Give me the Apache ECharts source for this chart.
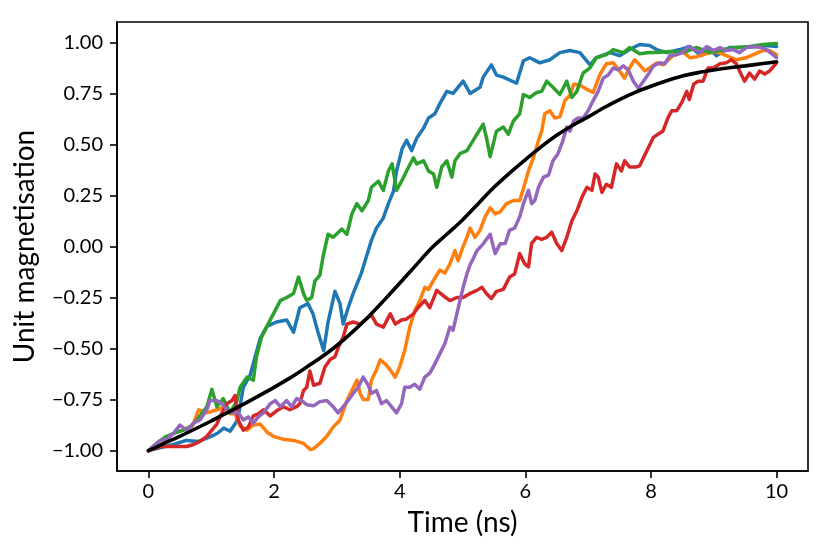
<!DOCTYPE html>
<html>
<head>
<meta charset="utf-8">
<script src="https://cdn.jsdelivr.net/npm/echarts@6/dist/echarts.min.js"></script>
<style>
	html, body {margin:0; padding:0; background:#fff;}
	#chart {width:831px; height:554px;}
</style>
</head>
<body>
<div id="chart"></div>
<script>
// individual runs, [time (ns), unit magnetisation]
var run1 = [[0,-1],[0.2,-0.985],[0.4,-0.97],[0.6,-0.95],[0.8,-0.955],[1.0,-0.93],[1.1,-0.915],[1.2,-0.89],[1.3,-0.905],[1.4,-0.86],[1.45,-0.8],[1.51,-0.69],[1.62,-0.63],[1.7,-0.54],[1.78,-0.45],[1.89,-0.39],[2.04,-0.37],[2.2,-0.36],[2.31,-0.42],[2.41,-0.3],[2.54,-0.28],[2.62,-0.33],[2.7,-0.42],[2.79,-0.51],[2.86,-0.37],[2.97,-0.22],[3.05,-0.28],[3.1,-0.38],[3.18,-0.3],[3.26,-0.23],[3.39,-0.13],[3.47,-0.05],[3.55,0.03],[3.63,0.09],[3.74,0.14],[3.82,0.21],[3.9,0.27],[3.95,0.37],[4.04,0.48],[4.11,0.52],[4.19,0.47],[4.27,0.53],[4.38,0.58],[4.46,0.63],[4.56,0.65],[4.64,0.7],[4.75,0.76],[4.85,0.75],[5.01,0.81],[5.12,0.75],[5.28,0.78],[5.33,0.83],[5.46,0.89],[5.54,0.84],[5.65,0.83],[5.86,0.8],[5.97,0.91],[6.07,0.925],[6.23,0.9],[6.39,0.915],[6.55,0.95],[6.71,0.96],[6.87,0.95],[7.03,0.89],[7.13,0.925],[7.35,0.95],[7.5,0.935],[7.66,0.965],[7.82,0.99],[7.98,0.985],[8.09,0.965],[8.25,0.95],[8.46,0.965],[8.62,0.98],[8.8,0.935],[8.94,0.97],[9.04,0.935],[9.25,0.975],[9.47,0.975],[9.68,0.98],[9.84,0.985],[10,0.98]];
var run2 = [[0,-1],[0.2,-0.97],[0.4,-0.915],[0.55,-0.9],[0.7,-0.88],[0.8,-0.8],[0.93,-0.815],[1.09,-0.8],[1.22,-0.785],[1.3,-0.82],[1.38,-0.82],[1.46,-0.88],[1.57,-0.9],[1.67,-0.875],[1.78,-0.87],[1.89,-0.91],[1.99,-0.93],[2.15,-0.945],[2.31,-0.95],[2.47,-0.965],[2.58,-0.995],[2.63,-0.99],[2.73,-0.965],[2.84,-0.93],[2.94,-0.885],[3.05,-0.85],[3.16,-0.755],[3.24,-0.705],[3.32,-0.655],[3.37,-0.72],[3.42,-0.75],[3.5,-0.75],[3.55,-0.655],[3.63,-0.605],[3.69,-0.555],[3.77,-0.575],[3.85,-0.605],[3.93,-0.64],[4.0,-0.59],[4.08,-0.51],[4.16,-0.395],[4.24,-0.315],[4.32,-0.265],[4.4,-0.2],[4.46,-0.21],[4.54,-0.165],[4.64,-0.115],[4.72,-0.13],[4.8,-0.085],[4.88,-0.02],[4.93,-0.07],[5.01,0],[5.07,0.045],[5.12,0.09],[5.2,0.045],[5.28,0.08],[5.36,0.145],[5.44,0.19],[5.52,0.16],[5.6,0.17],[5.7,0.21],[5.81,0.225],[5.91,0.225],[5.99,0.305],[6.05,0.37],[6.13,0.435],[6.21,0.52],[6.26,0.565],[6.31,0.65],[6.39,0.665],[6.47,0.63],[6.55,0.635],[6.63,0.715],[6.71,0.74],[6.77,0.795],[6.87,0.79],[6.98,0.77],[7.08,0.755],[7.19,0.845],[7.29,0.895],[7.4,0.9],[7.5,0.86],[7.58,0.825],[7.66,0.875],[7.74,0.915],[7.82,0.89],[7.9,0.86],[7.98,0.875],[8.09,0.9],[8.19,0.89],[8.35,0.935],[8.51,0.955],[8.62,0.925],[8.73,0.93],[8.89,0.945],[9.04,0.955],[9.2,0.935],[9.36,0.915],[9.52,0.925],[9.63,0.94],[9.78,0.96],[9.89,0.96],[10,0.94]];
var run3 = [[0,-1],[0.15,-0.96],[0.29,-0.93],[0.45,-0.91],[0.56,-0.9],[0.68,-0.88],[0.77,-0.85],[0.93,-0.785],[1.01,-0.7],[1.09,-0.785],[1.19,-0.745],[1.3,-0.815],[1.41,-0.755],[1.46,-0.69],[1.57,-0.64],[1.67,-0.655],[1.72,-0.54],[1.8,-0.445],[1.88,-0.395],[1.99,-0.33],[2.1,-0.265],[2.2,-0.25],[2.31,-0.23],[2.39,-0.15],[2.47,-0.23],[2.52,-0.265],[2.6,-0.25],[2.65,-0.17],[2.73,-0.14],[2.78,-0.05],[2.86,0.06],[2.94,0.045],[3.08,0.085],[3.16,0.06],[3.24,0.16],[3.32,0.21],[3.4,0.175],[3.5,0.225],[3.55,0.29],[3.66,0.32],[3.74,0.275],[3.82,0.37],[3.88,0.405],[3.95,0.275],[4.03,0.32],[4.11,0.37],[4.22,0.435],[4.27,0.405],[4.38,0.42],[4.46,0.37],[4.54,0.355],[4.59,0.29],[4.67,0.39],[4.75,0.42],[4.83,0.34],[4.88,0.42],[4.96,0.455],[5.07,0.47],[5.17,0.52],[5.23,0.55],[5.33,0.6],[5.38,0.535],[5.44,0.44],[5.54,0.565],[5.65,0.585],[5.73,0.55],[5.81,0.615],[5.91,0.65],[5.97,0.745],[6.07,0.73],[6.18,0.755],[6.26,0.76],[6.34,0.81],[6.44,0.78],[6.55,0.745],[6.66,0.81],[6.74,0.73],[6.82,0.76],[6.92,0.85],[7.03,0.875],[7.13,0.925],[7.29,0.94],[7.4,0.965],[7.56,0.95],[7.66,0.975],[7.82,0.945],[7.98,0.95],[8.09,0.95],[8.3,0.955],[8.51,0.95],[8.73,0.975],[8.94,0.95],[9.15,0.965],[9.36,0.975],[9.57,0.98],[9.78,0.99],[10,0.995]];
var run4 = [[0,-1],[0.19,-0.98],[0.4,-0.98],[0.61,-0.98],[0.72,-0.97],[0.82,-0.955],[0.93,-0.93],[1.01,-0.9],[1.09,-0.87],[1.17,-0.815],[1.25,-0.77],[1.33,-0.755],[1.38,-0.73],[1.43,-0.85],[1.51,-0.9],[1.59,-0.885],[1.67,-0.83],[1.75,-0.82],[1.83,-0.8],[1.94,-0.83],[2.04,-0.805],[2.15,-0.785],[2.25,-0.8],[2.36,-0.785],[2.41,-0.77],[2.47,-0.705],[2.52,-0.69],[2.57,-0.61],[2.63,-0.68],[2.73,-0.67],[2.81,-0.59],[2.89,-0.555],[2.97,-0.54],[3.03,-0.49],[3.1,-0.445],[3.16,-0.38],[3.26,-0.37],[3.37,-0.38],[3.47,-0.355],[3.55,-0.335],[3.63,-0.38],[3.74,-0.395],[3.85,-0.33],[3.93,-0.38],[4.03,-0.36],[4.11,-0.355],[4.22,-0.33],[4.29,-0.3],[4.4,-0.265],[4.48,-0.3],[4.59,-0.215],[4.69,-0.24],[4.8,-0.265],[4.91,-0.25],[5.01,-0.25],[5.12,-0.23],[5.23,-0.215],[5.31,-0.2],[5.38,-0.23],[5.46,-0.255],[5.54,-0.22],[5.65,-0.21],[5.75,-0.15],[5.83,-0.135],[5.91,-0.035],[5.99,-0.085],[6.05,-0.1],[6.1,0.015],[6.18,0.045],[6.26,0.035],[6.34,0.045],[6.42,0.07],[6.5,0.015],[6.58,-0.02],[6.66,0.045],[6.74,0.125],[6.82,0.175],[6.9,0.24],[6.98,0.29],[7.06,0.275],[7.11,0.355],[7.16,0.34],[7.22,0.265],[7.29,0.305],[7.37,0.29],[7.45,0.405],[7.53,0.37],[7.58,0.42],[7.66,0.39],[7.77,0.39],[7.82,0.395],[7.88,0.435],[7.96,0.485],[8.04,0.535],[8.11,0.55],[8.19,0.565],[8.27,0.63],[8.33,0.665],[8.41,0.665],[8.49,0.705],[8.57,0.76],[8.61,0.72],[8.68,0.795],[8.75,0.81],[8.83,0.81],[8.91,0.875],[8.99,0.875],[9.1,0.895],[9.2,0.9],[9.28,0.915],[9.36,0.895],[9.41,0.86],[9.49,0.81],[9.57,0.85],[9.65,0.82],[9.73,0.86],[9.81,0.845],[9.89,0.86],[10,0.9]];
var run5 = [[0,-1],[0.19,-0.95],[0.29,-0.945],[0.4,-0.915],[0.5,-0.875],[0.61,-0.9],[0.72,-0.865],[0.82,-0.85],[0.93,-0.8],[0.98,-0.755],[1.09,-0.755],[1.17,-0.77],[1.25,-0.8],[1.35,-0.815],[1.43,-0.815],[1.51,-0.85],[1.59,-0.835],[1.67,-0.865],[1.75,-0.835],[1.83,-0.815],[1.94,-0.77],[2.02,-0.755],[2.1,-0.785],[2.2,-0.755],[2.28,-0.785],[2.36,-0.745],[2.44,-0.755],[2.52,-0.775],[2.63,-0.78],[2.73,-0.76],[2.84,-0.755],[2.94,-0.785],[3.02,-0.815],[3.1,-0.785],[3.18,-0.755],[3.26,-0.72],[3.34,-0.69],[3.42,-0.64],[3.5,-0.68],[3.55,-0.72],[3.63,-0.705],[3.71,-0.77],[3.79,-0.755],[3.87,-0.785],[3.95,-0.815],[4.03,-0.77],[4.08,-0.69],[4.16,-0.69],[4.24,-0.675],[4.32,-0.7],[4.4,-0.64],[4.48,-0.62],[4.56,-0.575],[4.64,-0.525],[4.72,-0.475],[4.8,-0.395],[4.85,-0.41],[4.91,-0.33],[4.96,-0.265],[5.01,-0.2],[5.07,-0.135],[5.12,-0.09],[5.17,-0.06],[5.23,-0.02],[5.33,0.013],[5.44,0.06],[5.52,-0.035],[5.6,0.013],[5.68,0.015],[5.75,0.08],[5.83,0.09],[5.91,0.145],[5.97,0.21],[6.05,0.275],[6.1,0.21],[6.15,0.225],[6.21,0.29],[6.29,0.34],[6.37,0.35],[6.44,0.42],[6.52,0.455],[6.6,0.52],[6.66,0.585],[6.71,0.565],[6.77,0.615],[6.84,0.63],[6.92,0.63],[7.0,0.665],[7.08,0.715],[7.16,0.76],[7.24,0.825],[7.32,0.84],[7.4,0.875],[7.48,0.865],[7.56,0.885],[7.64,0.865],[7.72,0.81],[7.8,0.775],[7.88,0.81],[7.96,0.845],[8.04,0.885],[8.14,0.9],[8.22,0.895],[8.3,0.935],[8.41,0.94],[8.51,0.95],[8.59,0.98],[8.7,0.965],[8.78,0.95],[8.89,0.98],[8.99,0.96],[9.1,0.975],[9.2,0.96],[9.31,0.965],[9.41,0.95],[9.52,0.975],[9.63,0.98],[9.76,0.975],[9.84,0.965],[9.92,0.945],[10,0.925]];
// average over runs (black curve)
var meanRun = [[0,-1],[0.25,-0.965],[0.5,-0.93],[0.75,-0.893],[1.0,-0.855],[1.25,-0.815],[1.5,-0.775],[1.75,-0.733],[2.0,-0.69],[2.25,-0.645],[2.5,-0.595],[2.75,-0.543],[3.0,-0.485],[3.25,-0.418],[3.5,-0.345],[3.75,-0.264],[4.0,-0.18],[4.25,-0.095],[4.5,-0.01],[4.75,0.06],[5.0,0.13],[5.25,0.21],[5.5,0.29],[5.75,0.36],[6.0,0.425],[6.25,0.488],[6.5,0.545],[6.75,0.593],[7.0,0.635],[7.25,0.68],[7.5,0.72],[7.75,0.755],[8.0,0.785],[8.25,0.812],[8.5,0.835],[8.75,0.852],[9.0,0.865],[9.25,0.876],[9.5,0.885],[9.75,0.895],[10,0.905]];

var xTicks = [0, 2, 4, 6, 8, 10];
var yTicks = [-1, -0.75, -0.5, -0.25, 0, 0.25, 0.5, 0.75, 1];

var runs = [run1, run2, run3, run4, run5];
var colorList = ['#1f77b4', '#ff7f0e', '#2ca02c', '#d62728', '#9467bd'];

var chart = echarts.init(document.getElementById('chart'), null, {renderer:'canvas'});

var series = runs.map(function(d, i){
	return {
		type:'line',
		data:d,
		showSymbol:false,
		lineStyle:{color:colorList[i], width:3.5, join:'round', cap:'round'},
		z:2 + i
	}
});
series.push({
	type:'line',
	data:meanRun,
	showSymbol:false,
	smooth:0.3,
	lineStyle:{color:'#000', width:3.6, cap:'round'},
	z:10
});

var axisCommon = {
	type:'value',
	nameLocation:'middle',
	nameTextStyle:{fontFamily:'Lato', fontSize:28, color:'#000'},
	splitLine:{show:false},
	axisLine:{show:true, onZero:false, lineStyle:{color:'#000', width:1.6}},
	axisTick:{show:true, inside:false, length:7, lineStyle:{color:'#000', width:1.6}}
};

chart.setOption({
	animation:false,
	backgroundColor:'#fff',
	grid:{
		left:117, right:23, top:22, bottom:83,
		show:true, borderColor:'#000', borderWidth:1.6, backgroundColor:'transparent'
	},
	xAxis:Object.assign({}, axisCommon, {
		name:'Time (ns)',
		nameGap:38,
		min:-0.5, max:10.5,
		axisTick:Object.assign({}, axisCommon.axisTick, {customValues:xTicks}),
		axisLabel:{
			customValues:xTicks, margin:11,
			fontFamily:'Lato', fontSize:20, color:'#000'
		}
	}),
	yAxis:Object.assign({}, axisCommon, {
		name:'Unit magnetisation',
		nameGap:78,
		min:-1.1, max:1.1,
		axisTick:Object.assign({}, axisCommon.axisTick, {customValues:yTicks}),
		axisLabel:{
			customValues:yTicks, margin:14,
			fontFamily:'Lato', fontSize:20, color:'#000',
			formatter:function(v){
				var s = Math.abs(v).toFixed(2);
				return v < 0 ? '\u2212' + s : s;
			}
		}
	}),
	series:series
});
</script>
</body>
</html>
